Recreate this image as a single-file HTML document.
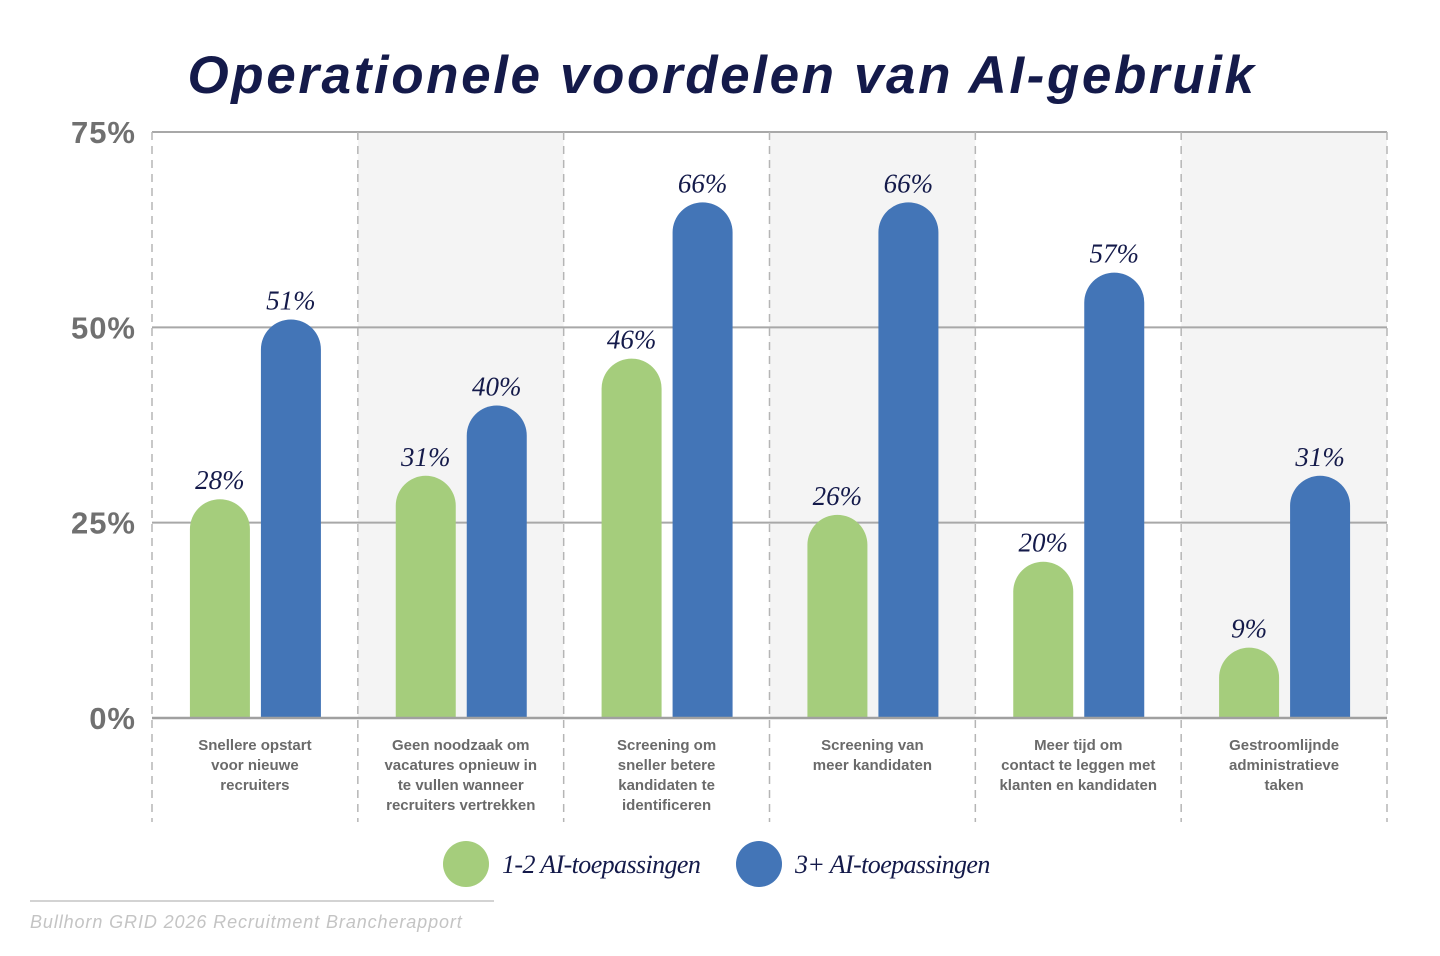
<!DOCTYPE html>
<html><head><meta charset="utf-8"><style>
html,body{margin:0;padding:0;background:#fff;width:1440px;height:956px;overflow:hidden}
svg{display:block}
</style></head><body>
<svg id="c" width="1440" height="956" xmlns="http://www.w3.org/2000/svg">
<text x="722" y="93" text-anchor="middle" font-family="Liberation Sans, sans-serif" font-weight="bold" font-style="italic" font-size="53" letter-spacing="2.6" fill="#141a4a">Operationele voordelen van AI-gebruik</text>
<g id="plot"></g>
<line x1="30" y1="901" x2="494" y2="901" stroke="#d3d3d3" stroke-width="2"/>
<text x="30" y="928" font-family="Liberation Sans, sans-serif" font-style="italic" font-size="18" letter-spacing="0.9" fill="#c4c4c4">Bullhorn GRID 2026 Recruitment Brancherapport</text>
<g>
<circle cx="466" cy="864" r="23" fill="#a5cd7c"/>
<text x="502" y="873" font-family="Liberation Serif, serif" font-style="italic" font-size="26" letter-spacing="-0.6" fill="#141a4a">1-2 AI-toepassingen</text>
<circle cx="759" cy="864" r="23" fill="#4375b7"/>
<text x="795" y="873" font-family="Liberation Serif, serif" font-style="italic" font-size="26" letter-spacing="-0.6" fill="#141a4a">3+ AI-toepassingen</text>
</g>
</svg>
<script>
const categories=[["Snellere opstart","voor nieuwe","recruiters"],["Geen noodzaak om","vacatures opnieuw in","te vullen wanneer","recruiters vertrekken"],["Screening om","sneller betere","kandidaten te","identificeren"],["Screening van","meer kandidaten"],["Meer tijd om","contact te leggen met","klanten en kandidaten"],["Gestroomlijnde","administratieve","taken"]];
const seriesLow=[28,31,46,26,20,9];
const seriesHigh=[51,40,66,66,57,31];
const yTicks=[0,25,50,75];
const tickLabels=["0%","25%","50%","75%"];

const NS="http://www.w3.org/2000/svg";
const g=document.getElementById('plot');
const x0=152,x1=1387,y0=718,yTop=132,yMax=75;
const bw=(x1-x0)/categories.length;
const y=v=>y0-(v/yMax)*(y0-yTop);
const cx=i=>x0+bw*(i+0.5);
function mk(t,a){const e=document.createElementNS(NS,t);for(const k in a)e.setAttribute(k,a[k]);g.appendChild(e);return e;}
categories.forEach((c,i)=>{if(i%2==1){const r=mk('rect',{x:x0+bw*i,y:yTop,width:bw,height:y0-yTop,fill:'#f4f4f4'});

}});
yTicks.forEach((t,i)=>{const l=mk('line',{x1:x0,x2:x1,y1:y(t),y2:y(t),stroke:'#a8a8a8','stroke-width':2});


const tx=mk('text',{x:136,y:y(t)+11,'text-anchor':'end','font-family':'Liberation Sans, sans-serif','font-weight':'bold','font-size':31,'letter-spacing':1,fill:'#707070'});


tx.textContent=tickLabels[i];});
for(let i=0;i<=categories.length;i++){const l=mk('line',{x1:x0+bw*i,x2:x0+bw*i,y1:yTop,y2:822,stroke:'#b5b5b5','stroke-width':1.5,'stroke-dasharray':'8 6'});

}
function bar(xl,v,col,name){const top=y(v),r=30,w=60;
const p=mk('path',{d:`M${xl},${y0} L${xl},${top+r} A${r},${r} 0 0 1 ${xl+w},${top+r} L${xl+w},${y0} Z`,fill:col});


const t=mk('text',{x:xl+w/2,y:top-10,'text-anchor':'middle','font-family':'Liberation Serif, serif','font-style':'italic','font-size':27,fill:'#141a4a'});


t.textContent=v+'%';}
categories.forEach((c,i)=>{
bar(cx(i)-65,seriesLow[i],'#a5cd7c','bar-1-2');
bar(cx(i)+6,seriesHigh[i],'#4375b7','bar-3plus');
c.forEach((ln,j)=>{const t=mk('text',{x:cx(i),y:750+j*20,'text-anchor':'middle','font-family':'Liberation Sans, sans-serif','font-weight':'bold','font-size':15,fill:'#6a6a6a'});


t.textContent=ln;});
});
const ax=mk('line',{x1:x0,x2:x1,y1:y0,y2:y0,stroke:'#a0a0a0','stroke-width':2.5});


</script>
</body></html>
